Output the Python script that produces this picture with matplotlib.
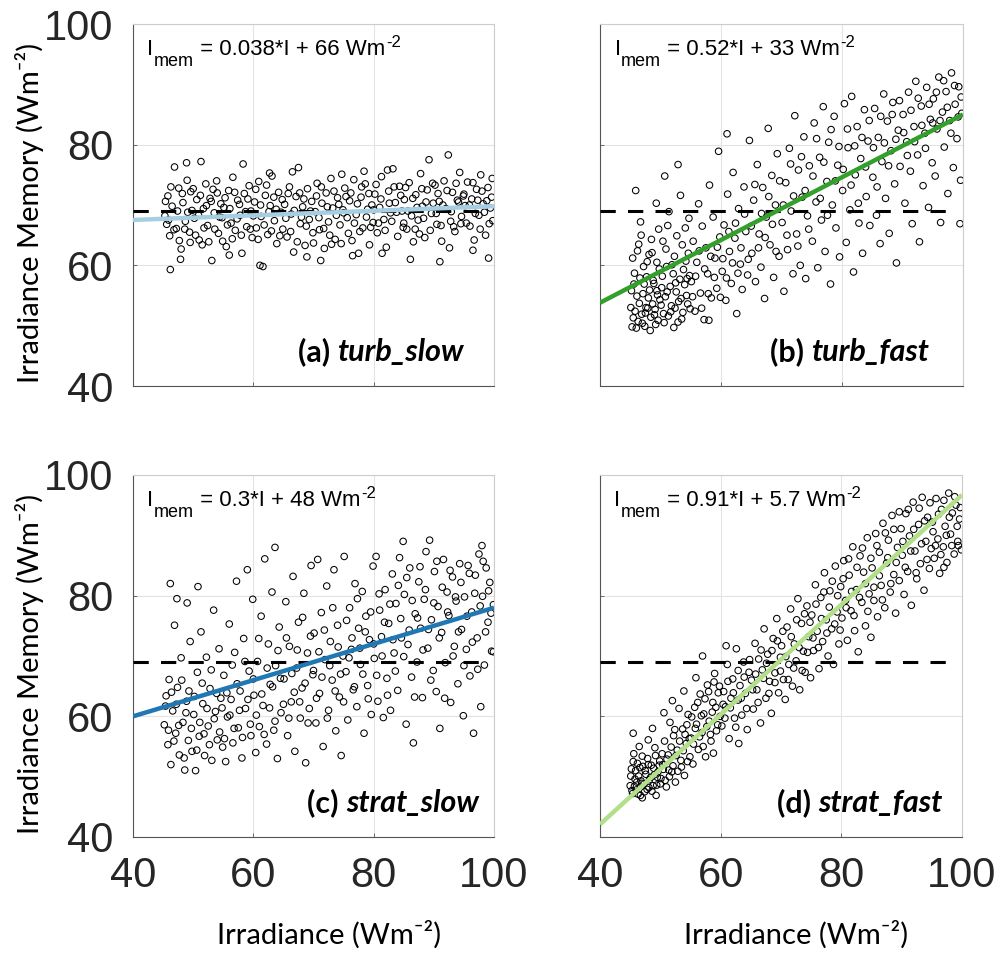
import numpy as np
import matplotlib
matplotlib.use("Agg")
import matplotlib.pyplot as plt

# Irradiance (x) vs irradiance memory (y) for each of the four runs
turb_slow_pts = [
    (45.3, 68.2), (45.8, 71.5), (46.1, 64.9), (46.5, 69.8), (46.9, 76.3), (47.2, 66.1), (47.6, 72.8), (48.0, 62.7),
    (48.3, 70.4), (48.7, 67.3), (49.0, 74.1), (49.4, 65.5), (49.8, 69.1), (46.2, 59.3), (47.9, 61.0), (48.9, 77.0),
    (45.6, 66.8), (49.6, 72.2),
    (50.2, 67.8), (50.6, 70.9), (51.0, 64.2), (51.3, 77.2), (51.7, 69.4), (52.1, 73.5), (52.4, 66.6), (52.8, 71.1),
    (53.1, 60.8), (53.5, 68.7), (53.9, 74.0), (54.2, 65.3), (54.6, 70.2), (51.5, 63.4), (53.3, 72.6), (54.8, 67.9),
    (55.1, 69.6), (55.5, 63.1), (55.9, 72.4), (56.3, 67.0), (56.6, 74.6), (57.0, 65.8), (57.4, 70.8), (57.8, 68.3),
    (58.1, 62.0), (58.5, 71.9), (58.9, 66.4), (59.3, 73.2), (59.6, 69.0), (56.0, 61.7), (58.3, 76.8), (59.8, 64.6),
    (60.2, 70.5), (60.5, 66.2), (60.9, 73.9), (61.3, 68.1), (61.6, 59.8), (62.0, 71.6), (62.4, 65.1), (62.8, 69.9),
    (63.1, 74.8), (63.5, 67.4), (63.9, 63.6), (64.2, 72.1), (64.6, 68.8), (61.1, 60.0), (62.7, 75.3), (64.9, 66.0),
    (65.2, 70.1), (65.6, 64.7), (66.0, 73.0), (66.3, 68.5), (66.7, 62.2), (67.1, 71.4), (67.5, 76.2), (67.8, 66.9),
    (68.2, 69.7), (68.6, 63.3), (69.0, 72.7), (69.3, 67.6), (69.7, 70.6), (66.5, 75.5), (68.9, 61.4), (69.9, 65.4),
    (70.3, 68.9), (70.6, 73.6), (71.0, 65.9), (71.4, 70.3), (71.8, 62.8), (72.1, 72.0), (72.5, 67.2), (72.9, 74.4),
    (73.2, 69.5), (73.6, 64.3), (74.0, 71.2), (74.4, 66.7), (74.7, 75.1), (71.2, 60.8), (73.0, 63.5), (74.9, 69.2),
    (75.2, 72.8), (75.6, 67.9), (76.0, 70.7), (76.4, 64.1), (76.7, 74.2), (77.1, 68.4), (77.5, 62.0), (77.9, 71.3),
    (78.2, 66.2), (78.6, 73.5), (79.0, 69.3), (79.3, 63.4), (79.7, 70.0), (76.5, 61.6), (78.4, 75.6), (79.9, 67.1),
    (80.2, 71.8), (80.6, 65.4), (81.0, 69.6), (81.3, 74.7), (81.7, 67.6), (82.1, 63.0), (82.5, 72.3), (82.8, 68.7),
    (83.2, 76.0), (83.6, 70.4), (84.0, 64.8), (84.3, 73.1), (84.7, 69.0), (81.4, 62.0), (82.3, 75.8), (84.9, 66.3),
    (85.1, 70.9), (85.5, 66.0), (85.9, 73.7), (86.3, 68.2), (86.6, 63.9), (87.0, 71.7), (87.4, 67.5), (87.8, 75.2),
    (88.1, 69.8), (88.5, 64.6), (88.9, 72.5), (89.2, 77.5), (89.6, 68.6), (86.1, 61.0), (87.6, 65.2), (89.9, 70.3),
    (90.2, 73.3), (90.5, 66.8), (90.9, 70.6), (91.3, 64.0), (91.7, 74.0), (92.0, 69.4), (92.4, 78.3), (92.8, 67.3),
    (93.1, 72.1), (93.5, 65.6), (93.9, 70.8), (94.3, 75.4), (94.6, 68.1), (91.0, 60.6), (92.6, 62.9), (94.9, 71.5),
    (95.2, 69.9), (95.6, 73.8), (96.0, 66.5), (96.3, 71.0), (96.7, 64.2), (97.1, 72.6), (97.5, 68.3), (97.8, 75.0),
    (98.2, 70.2), (98.6, 65.0), (99.0, 72.9), (99.4, 69.5), (99.7, 74.4), (96.5, 62.5), (99.1, 61.2), (99.8, 67.4),
    (45.4, 70.6), (45.9, 67.5), (46.3, 73.0), (46.8, 65.9), (47.4, 69.0), (47.7, 64.1), (48.2, 71.9), (48.6, 66.0),
    (49.1, 68.8), (49.5, 63.8), (50.0, 72.7), (50.4, 65.0), (50.9, 68.3), (51.2, 71.6), (51.8, 66.2), (52.2, 69.9),
    (52.6, 63.9), (53.0, 70.6), (53.6, 66.0), (54.0, 72.0), (54.4, 68.0), (54.9, 64.0), (55.3, 71.2), (55.7, 66.7),
    (56.1, 69.4), (56.5, 64.4), (56.9, 72.1), (57.3, 67.7), (57.7, 70.1), (58.0, 65.0), (58.7, 68.9), (59.1, 71.0),
    (59.5, 66.0), (60.0, 68.2), (60.4, 72.6), (60.8, 64.3), (61.2, 70.0), (61.8, 66.7), (62.2, 73.3), (62.6, 68.9),
    (63.0, 65.7), (63.4, 71.3), (63.8, 69.3), (64.4, 64.9), (64.8, 70.9), (65.4, 67.8), (65.8, 71.9), (66.2, 65.6),
    (66.8, 69.1), (67.3, 63.9), (67.7, 72.0), (68.0, 68.0), (68.4, 71.0), (68.8, 66.5), (69.5, 69.0), (70.0, 63.7),
    (70.5, 71.5), (70.9, 67.9), (71.3, 73.0), (71.7, 66.1), (72.3, 69.7), (72.7, 65.0), (73.4, 72.3), (73.8, 68.3),
    (74.2, 70.1), (74.6, 63.6), (75.0, 68.7), (75.4, 71.4), (75.8, 65.3), (76.2, 72.0), (76.8, 67.0), (77.3, 70.2),
    (77.7, 65.6), (78.0, 73.0), (78.8, 68.0), (79.2, 71.9), (79.5, 66.3), (80.0, 69.2), (80.4, 73.4), (80.8, 67.0),
    (81.2, 71.0), (81.9, 65.8), (82.6, 70.3), (83.0, 67.3), (83.4, 73.0), (83.8, 68.8), (84.5, 71.6), (85.0, 67.0),
    (85.3, 72.9), (85.7, 69.0), (86.5, 71.1), (86.9, 66.0), (87.2, 69.6), (88.0, 72.7), (88.3, 67.8), (88.7, 70.5),
    (89.4, 65.8), (89.8, 73.6), (90.4, 68.6), (90.7, 71.9), (91.2, 66.6), (91.5, 70.0), (92.2, 72.4), (92.9, 68.9),
    (93.3, 66.4), (93.7, 73.6), (94.1, 70.5), (94.5, 66.9), (95.0, 71.8), (95.4, 67.0), (95.9, 70.0), (96.5, 73.7),
    (96.9, 68.6), (97.3, 70.8), (97.7, 66.0), (98.0, 72.3), (98.4, 68.8), (98.8, 70.7), (99.2, 66.9), (99.6, 71.3),
]

turb_fast_pts = [
    (45.2, 55.8), (45.5, 51.3), (45.7, 58.7), (46.0, 49.6), (46.2, 62.4), (46.5, 53.7), (46.7, 67.2), (47.0, 50.4),
    (47.3, 56.9), (47.5, 52.1), (47.8, 60.6), (48.0, 54.6), (48.3, 49.2), (48.5, 64.3), (48.8, 57.5), (49.0, 51.8),
    (49.3, 70.3), (49.5, 55.1), (49.8, 59.4), (45.9, 72.4), (46.8, 65.0), (47.6, 53.0), (48.1, 61.8), (49.2, 50.2),
    (49.7, 66.0),
    (50.1, 53.4), (50.3, 58.2), (50.6, 50.5), (50.9, 62.7), (51.1, 55.6), (51.4, 68.9), (51.7, 52.3), (51.9, 60.1),
    (52.2, 49.7), (52.5, 57.1), (52.7, 64.9), (53.0, 54.0), (53.3, 71.6), (53.5, 51.1), (53.8, 59.3), (54.1, 66.2),
    (54.3, 55.0), (54.6, 62.0), (54.9, 52.8), (50.7, 74.8), (52.9, 76.7), (54.4, 57.8),
    (55.1, 57.3), (55.4, 64.0), (55.7, 52.4), (56.0, 60.5), (56.3, 70.2), (56.6, 55.4), (56.9, 66.5), (57.2, 51.0),
    (57.5, 62.9), (57.8, 58.6), (58.1, 73.3), (58.4, 54.6), (58.7, 68.0), (59.0, 61.2), (59.3, 56.2), (59.6, 78.9),
    (59.8, 64.7), (58.0, 50.9),
    (60.2, 59.0), (60.5, 66.7), (60.8, 54.2), (61.1, 71.8), (61.4, 62.3), (61.7, 57.0), (62.0, 75.4), (62.3, 64.5),
    (62.6, 52.0), (62.9, 69.4), (63.2, 60.2), (63.5, 56.0), (63.8, 73.0), (64.1, 65.6), (64.4, 58.4), (64.7, 80.7),
    (61.0, 81.8),
    (65.1, 62.0), (65.4, 70.8), (65.7, 57.3), (66.0, 76.7), (66.3, 65.2), (66.6, 59.7), (66.9, 72.9), (67.2, 54.5),
    (67.5, 68.0), (67.8, 82.7), (68.1, 63.4), (68.4, 74.9), (68.7, 58.0), (69.0, 70.0), (69.3, 78.5), (69.6, 61.5),
    (70.1, 67.1), (70.4, 55.7), (70.7, 73.7), (71.0, 62.6), (71.3, 79.4), (71.6, 69.0), (71.9, 58.6), (72.2, 84.8),
    (72.5, 65.2), (72.8, 75.8), (73.1, 60.0), (73.4, 71.3), (73.7, 81.3), (74.0, 57.8), (74.3, 68.2), (74.6, 76.5),
    (75.1, 64.0), (75.4, 83.6), (75.7, 70.5), (76.0, 59.6), (76.3, 77.9), (76.6, 67.5), (76.9, 86.3), (77.2, 62.3),
    (77.5, 73.9), (77.8, 80.4), (78.1, 56.9), (78.4, 70.0), (78.7, 84.7), (79.0, 66.2), (79.3, 76.6), (79.6, 61.4),
    (80.1, 72.4), (80.4, 86.8), (80.7, 63.8), (81.0, 79.5), (81.3, 69.2), (81.6, 88.0), (81.9, 58.9), (82.2, 75.0),
    (82.5, 83.0), (82.8, 67.0), (83.1, 77.7), (83.4, 62.0), (83.7, 85.8), (84.0, 71.4), (84.3, 80.6), (84.6, 66.6),
    (85.1, 74.6), (85.4, 86.0), (85.7, 68.3), (86.0, 81.2), (86.3, 63.6), (86.6, 77.2), (86.9, 88.4), (87.2, 71.1),
    (87.5, 83.9), (87.8, 65.3), (88.1, 79.0), (88.4, 87.0), (88.7, 73.5), (89.0, 60.4), (89.3, 82.4), (89.6, 76.4),
    (90.1, 85.0), (90.4, 70.3), (90.7, 80.5), (91.0, 88.7), (91.3, 75.6), (91.6, 66.9), (91.9, 83.0), (92.2, 90.5),
    (92.5, 78.3), (92.8, 63.9), (93.1, 86.4), (93.4, 73.2), (93.7, 81.9), (94.0, 89.5), (94.3, 69.6), (94.6, 84.2),
    (94.9, 77.0),
    (95.1, 87.6), (95.4, 74.8), (95.7, 82.6), (96.0, 91.2), (96.3, 67.1), (96.6, 85.4), (96.9, 79.6), (97.2, 88.8),
    (97.5, 71.9), (97.8, 84.0), (98.1, 91.9), (98.4, 76.2), (98.7, 86.7), (99.0, 81.0), (99.3, 89.6), (99.6, 74.1),
    (99.8, 85.2), (99.5, 66.9),
    (45.1, 53.0), (45.3, 49.8), (45.6, 56.9), (45.8, 52.4), (46.1, 54.9), (46.3, 50.7), (46.6, 57.9), (46.9, 51.9),
    (47.1, 55.3), (47.4, 49.9), (47.7, 58.1), (47.9, 52.9), (48.2, 55.9), (48.4, 51.4), (48.7, 53.6), (48.9, 57.0),
    (49.1, 52.7), (49.4, 55.8), (49.6, 50.9), (49.9, 54.3), (50.2, 56.3), (50.5, 52.0), (50.8, 54.8), (51.0, 59.8),
    (51.3, 51.6), (51.6, 56.5), (51.8, 53.3), (52.1, 58.6), (52.4, 52.9), (52.6, 55.6), (52.9, 50.6), (53.2, 57.7),
    (53.4, 54.5), (53.7, 52.2), (54.0, 56.8), (54.2, 60.7), (54.5, 53.6), (54.8, 58.3), (45.4, 61.2), (46.4, 63.5),
    (47.2, 59.8), (48.6, 62.1), (49.4, 60.5), (50.4, 64.0), (51.2, 66.6), (52.3, 61.5), (53.6, 63.4), (54.7, 67.8),
    (55.3, 54.8), (55.8, 58.2), (56.4, 62.4), (56.8, 52.9), (57.3, 59.4), (57.9, 55.3), (58.3, 61.5), (58.9, 58.0),
    (59.4, 63.0), (59.9, 54.7), (60.3, 61.1), (60.9, 57.9), (61.3, 65.6), (61.9, 60.4), (62.4, 67.0), (62.8, 58.7),
    (63.3, 62.9), (63.9, 68.5), (64.5, 61.0), (65.0, 66.5), (65.6, 73.4), (66.2, 62.9), (66.7, 68.6), (67.3, 64.6),
    (67.9, 71.4), (68.5, 66.8), (69.1, 62.3), (69.7, 74.0), (70.3, 70.0), (70.9, 65.0), (71.5, 76.8), (72.0, 71.5),
    (72.7, 63.2), (73.3, 78.0), (73.9, 72.4), (74.5, 66.0), (75.2, 74.8), (75.8, 81.0), (76.4, 71.1), (77.0, 77.1),
    (77.6, 68.3), (78.2, 82.5), (78.9, 74.0), (79.5, 79.7), (80.2, 75.9), (80.9, 82.6), (81.5, 73.3), (82.1, 79.8),
    (82.7, 70.3), (83.3, 81.2), (83.9, 76.3), (84.5, 84.0), (85.2, 79.5), (85.8, 73.0), (86.4, 84.7), (87.0, 80.3),
    (87.7, 76.5), (88.3, 85.0), (88.9, 80.9), (89.5, 87.3), (90.2, 82.0), (90.8, 78.2), (91.4, 85.7), (92.0, 80.5),
    (92.6, 87.7), (93.2, 83.2), (93.8, 79.4), (94.4, 86.7), (95.0, 83.6), (95.6, 88.7), (96.2, 84.0), (96.8, 90.6),
    (97.4, 86.2), (98.0, 81.9), (98.6, 89.8), (99.2, 84.6), (99.7, 87.9),
]

strat_slow_pts = [
    (45.2, 58.6), (45.5, 63.4), (45.8, 55.3), (46.0, 66.1), (46.3, 52.0), (46.6, 60.9), (46.9, 75.1), (47.1, 57.2),
    (47.4, 64.8), (47.7, 53.6), (48.0, 69.7), (48.3, 59.0), (48.6, 51.1), (48.9, 62.5), (49.2, 56.0), (49.5, 72.4),
    (49.8, 54.2), (46.2, 82.0), (47.3, 79.5), (49.0, 78.8),
    (50.1, 60.3), (50.4, 51.0), (50.7, 67.3), (51.0, 56.7), (51.3, 74.0), (51.6, 62.1), (51.9, 53.5), (52.2, 69.8),
    (52.5, 58.4), (52.8, 64.6), (53.1, 52.7), (53.4, 77.6), (53.7, 60.8), (54.0, 56.1), (54.3, 71.2), (54.6, 63.0),
    (54.9, 54.9), (50.8, 81.5),
    (55.1, 66.8), (55.4, 52.5), (55.7, 59.9), (56.0, 75.3), (56.3, 62.8), (56.6, 55.6), (56.9, 70.6), (57.2, 82.4),
    (57.5, 58.1), (57.8, 64.2), (58.1, 53.1), (58.4, 72.9), (58.7, 61.3), (59.0, 84.3), (59.3, 67.5), (59.6, 56.8),
    (59.9, 79.4),
    (60.1, 63.5), (60.4, 54.0), (60.7, 69.1), (61.0, 58.3), (61.3, 76.6), (61.6, 61.8), (61.9, 86.1), (62.2, 55.4),
    (62.5, 72.0), (62.8, 65.3), (63.1, 80.6), (63.4, 57.7), (63.7, 68.4), (64.0, 53.0), (64.3, 74.8), (64.6, 60.6),
    (63.6, 88.0),
    (65.1, 66.2), (65.4, 79.0), (65.7, 56.8), (66.0, 71.6), (66.3, 62.4), (66.6, 83.2), (66.9, 54.2), (67.2, 68.0),
    (67.5, 75.6), (67.8, 59.7), (68.1, 64.7), (68.4, 80.4), (68.7, 52.3), (69.0, 70.5), (69.3, 61.3), (69.6, 85.0),
    (69.9, 66.9),
    (70.1, 73.8), (70.4, 58.9), (70.7, 86.0), (71.0, 63.8), (71.3, 77.2), (71.6, 55.0), (71.9, 69.4), (72.2, 81.6),
    (72.5, 61.0), (72.8, 72.4), (73.1, 66.0), (73.4, 84.3), (73.7, 57.6), (74.0, 75.1), (74.3, 63.2), (74.6, 53.5),
    (74.9, 70.0),
    (75.1, 86.5), (75.4, 67.4), (75.7, 59.4), (76.0, 78.0), (76.3, 71.1), (76.6, 64.4), (76.9, 82.0), (77.2, 61.6),
    (77.5, 74.6), (77.8, 68.6), (78.1, 80.7), (78.4, 57.2), (78.7, 76.6), (79.0, 65.1), (79.3, 72.7), (79.6, 60.3),
    (79.9, 84.9),
    (80.1, 69.6), (80.4, 86.5), (80.7, 62.5), (81.0, 77.6), (81.3, 73.2), (81.6, 59.8), (81.9, 81.0), (82.2, 66.3),
    (82.5, 75.4), (82.8, 61.0), (83.1, 83.6), (83.4, 70.5), (83.7, 78.7), (84.0, 64.3), (84.3, 86.3), (84.6, 73.0),
    (84.9, 89.0),
    (85.1, 80.2), (85.4, 58.7), (85.7, 71.9), (86.0, 84.6), (86.3, 66.5), (86.6, 55.6), (86.9, 77.0), (87.2, 69.0),
    (87.5, 82.3), (87.8, 74.6), (88.1, 63.1), (88.4, 79.4), (88.7, 87.3), (89.0, 71.3), (89.3, 89.2), (89.6, 76.0),
    (89.9, 67.6),
    (90.1, 84.0), (90.4, 64.1), (90.7, 78.2), (91.0, 58.0), (91.3, 73.9), (91.6, 86.0), (91.9, 68.9), (92.2, 80.6),
    (92.5, 76.7), (92.8, 62.3), (93.1, 83.1), (93.4, 71.6), (93.7, 79.1), (94.0, 65.4), (94.3, 85.3), (94.6, 74.4),
    (94.9, 60.1),
    (95.1, 79.8), (95.4, 71.1), (95.7, 85.0), (96.0, 66.7), (96.3, 77.3), (96.6, 57.2), (96.9, 83.4), (97.2, 73.0),
    (97.5, 86.9), (97.8, 61.6), (98.1, 79.9), (98.4, 68.5), (98.7, 84.6), (99.0, 75.6), (99.3, 82.2), (99.6, 70.8),
    (99.9, 78.5), (98.0, 88.3),
    (45.4, 61.7), (45.9, 57.7), (46.4, 64.0), (46.8, 55.9), (47.2, 62.0), (47.6, 58.5), (48.1, 66.0), (48.5, 53.1),
    (48.8, 60.6), (49.3, 64.2), (49.7, 58.0), (50.2, 63.3), (50.6, 54.4), (51.1, 59.0), (51.5, 65.5), (51.8, 57.1),
    (52.3, 61.3), (52.7, 55.3), (53.0, 67.7), (53.5, 59.6), (53.9, 63.8), (54.4, 57.4), (54.8, 61.4), (55.2, 56.3),
    (55.6, 63.9), (56.1, 60.2), (56.5, 68.5), (56.8, 58.0), (57.3, 65.4), (57.7, 61.0), (58.2, 56.5), (58.6, 69.1),
    (59.1, 62.8), (59.5, 58.7), (60.0, 66.2), (60.5, 60.2), (60.9, 72.9), (61.4, 63.7), (61.8, 57.0), (62.3, 68.0),
    (62.7, 61.4), (63.2, 64.9), (63.6, 59.2), (64.1, 70.9), (64.5, 66.3), (65.0, 62.0), (65.5, 73.0), (65.9, 59.7),
    (66.4, 67.1), (66.8, 64.0), (67.3, 71.0), (67.7, 62.4), (68.2, 76.4), (68.6, 65.5), (69.1, 58.9), (69.5, 73.3),
    (70.0, 67.6), (70.5, 63.0), (70.9, 70.7), (71.4, 66.5), (71.8, 74.3), (72.3, 59.7), (72.7, 68.4), (73.2, 78.0),
    (73.6, 64.2), (74.1, 71.5), (74.5, 67.0), (75.0, 62.4), (75.5, 75.9), (75.9, 69.7), (76.4, 73.0), (76.8, 64.9),
    (77.3, 79.5), (77.7, 71.3), (78.2, 67.0), (78.6, 74.0), (79.1, 62.9), (79.5, 77.3), (80.0, 72.0), (80.5, 66.8),
    (80.9, 80.3), (81.4, 70.0), (81.8, 75.6), (82.3, 63.5), (82.7, 78.6), (83.2, 72.7), (83.6, 67.5), (84.1, 81.7),
    (84.5, 76.2), (85.0, 69.9), (85.5, 83.0), (85.9, 74.3), (86.4, 79.2), (86.8, 63.2), (87.3, 76.3), (87.7, 84.8),
    (88.2, 71.0), (88.6, 81.0), (89.1, 74.4), (89.5, 66.0), (90.0, 78.8), (90.5, 85.7), (90.9, 73.0), (91.4, 81.4),
    (91.8, 63.0), (92.3, 77.3), (92.7, 84.2), (93.2, 70.0), (93.6, 79.8), (94.1, 74.0), (94.5, 82.2), (95.0, 68.4),
    (95.5, 76.6), (95.9, 83.7), (96.4, 72.3), (96.8, 80.4), (97.3, 67.8), (97.7, 78.3), (98.2, 85.7), (98.6, 74.0),
    (99.1, 80.8), (99.5, 77.1), (99.9, 70.7),
]

strat_fast_pts = [
    (45.0, 48.5), (45.2, 51.3), (45.4, 47.2), (45.6, 53.8), (45.8, 49.6), (46.0, 47.8), (46.2, 52.2), (46.4, 50.1),
    (46.7, 46.9), (46.9, 48.9), (47.1, 51.7), (47.4, 47.5), (47.6, 50.4), (47.9, 53.0), (48.1, 48.2), (48.4, 49.9),
    (48.6, 47.6), (48.9, 51.4), (49.1, 54.8), (49.4, 48.6), (49.6, 50.8), (49.9, 52.6), (45.5, 57.2), (46.5, 55.0),
    (48.0, 56.1), (47.0, 46.5), (49.3, 46.9), (48.7, 58.0),
    (50.1, 49.7), (50.4, 52.0), (50.7, 55.9), (51.0, 48.3), (51.3, 53.6), (51.6, 59.0), (51.9, 50.8), (52.2, 56.8),
    (52.5, 49.1), (52.8, 54.4), (53.1, 61.3), (53.4, 52.7), (53.7, 57.9), (54.0, 50.2), (54.3, 55.5), (54.6, 60.3),
    (54.9, 53.3), (50.6, 60.6), (52.0, 62.6), (53.9, 64.2), (51.4, 51.1), (54.4, 58.6),
    (55.1, 56.4), (55.4, 52.1), (55.7, 61.5), (56.0, 58.7), (56.3, 54.5), (56.6, 63.7), (56.9, 57.3), (57.2, 60.4),
    (57.5, 53.3), (57.8, 65.2), (58.1, 59.2), (58.4, 55.9), (58.7, 62.3), (59.0, 67.1), (59.3, 57.6), (59.6, 63.9),
    (59.9, 60.0), (55.9, 66.4), (58.8, 53.9), (57.0, 70.0),
    (60.2, 58.4), (60.5, 64.1), (60.8, 61.6), (61.1, 68.6), (61.4, 56.3), (61.7, 63.0), (62.0, 66.2), (62.3, 59.7),
    (62.6, 71.2), (62.9, 62.7), (63.2, 65.1), (63.5, 60.2), (63.8, 69.0), (64.1, 63.8), (64.4, 57.8), (64.7, 67.3),
    (60.9, 71.7), (63.0, 55.5),
    (65.1, 66.0), (65.4, 61.2), (65.7, 72.1), (66.0, 64.4), (66.3, 69.5), (66.6, 58.9), (66.9, 67.7), (67.2, 74.5),
    (67.5, 63.0), (67.8, 70.3), (68.1, 65.8), (68.4, 60.5), (68.7, 72.9), (69.0, 67.2), (69.3, 76.2), (69.6, 63.9),
    (69.9, 69.8),
    (70.1, 71.7), (70.4, 66.1), (70.7, 62.8), (71.0, 74.8), (71.3, 68.6), (71.6, 77.8), (71.9, 65.0), (72.2, 72.0),
    (72.5, 69.2), (72.8, 79.5), (73.1, 64.4), (73.4, 75.4), (73.7, 70.8), (74.0, 67.3), (74.3, 78.3), (74.6, 73.2),
    (74.9, 66.4),
    (75.1, 76.8), (75.4, 70.9), (75.7, 81.8), (76.0, 74.1), (76.3, 67.9), (76.6, 79.7), (76.9, 72.4), (77.2, 83.8),
    (77.5, 76.0), (77.8, 70.0), (78.1, 80.8), (78.4, 74.5), (78.7, 68.6), (79.0, 84.9), (79.3, 77.3), (79.6, 72.0),
    (79.9, 81.5),
    (80.1, 76.3), (80.4, 85.8), (80.7, 79.2), (81.0, 72.6), (81.3, 83.4), (81.6, 77.5), (81.9, 88.1), (82.2, 74.2),
    (82.5, 81.0), (82.8, 70.7), (83.1, 86.6), (83.4, 78.9), (83.7, 83.9), (84.0, 75.0), (84.3, 89.6), (84.6, 80.3),
    (84.9, 73.1),
    (85.1, 84.6), (85.4, 79.2), (85.7, 90.3), (86.0, 76.5), (86.3, 87.2), (86.6, 81.7), (86.9, 92.0), (87.2, 78.0),
    (87.5, 85.4), (87.8, 89.2), (88.1, 80.6), (88.4, 93.3), (88.7, 83.5), (89.0, 77.1), (89.3, 88.0), (89.6, 82.5),
    (89.9, 91.1),
    (90.1, 86.7), (90.4, 80.2), (90.7, 93.6), (91.0, 84.0), (91.3, 89.9), (91.6, 78.4), (91.9, 95.5), (92.2, 87.4),
    (92.5, 82.8), (92.8, 91.8), (93.1, 85.3), (93.4, 96.3), (93.7, 80.9), (94.0, 89.0), (94.3, 93.0), (94.6, 84.5),
    (94.9, 87.8),
    (95.1, 92.2), (95.4, 86.2), (95.7, 96.1), (96.0, 89.4), (96.3, 83.7), (96.6, 94.3), (96.9, 88.1), (97.2, 91.5),
    (97.5, 85.5), (97.8, 97.0), (98.1, 90.2), (98.4, 93.7), (98.7, 86.9), (99.0, 95.0), (99.3, 89.0), (99.6, 92.7),
    (99.9, 87.6), (97.0, 84.7),
    (45.1, 50.1), (45.3, 47.7), (45.5, 52.5), (45.7, 48.4), (45.9, 51.0), (46.1, 49.1), (46.3, 47.1), (46.6, 51.5),
    (46.8, 49.3), (47.0, 53.4), (47.3, 48.8), (47.5, 51.0), (47.8, 47.9), (48.0, 52.0), (48.2, 49.5), (48.5, 51.9),
    (48.8, 48.5), (49.0, 50.3), (49.2, 53.5), (49.5, 49.9), (49.8, 51.9), (50.0, 48.8), (50.3, 53.8), (50.5, 51.2),
    (50.8, 49.4), (51.1, 52.9), (51.5, 50.0), (51.8, 54.9), (52.1, 51.8), (52.4, 57.8), (52.6, 53.5), (52.9, 50.9),
    (53.2, 55.9), (53.5, 51.6), (53.8, 54.3), (54.1, 57.0), (54.5, 52.5), (54.8, 56.3), (55.2, 59.9), (55.5, 55.4),
    (55.8, 58.0), (56.2, 62.3), (56.5, 56.6), (56.8, 60.1), (57.1, 55.0), (57.4, 62.9), (57.7, 58.3), (58.0, 64.1),
    (58.3, 57.0), (58.6, 60.7), (58.9, 65.7), (59.2, 61.5), (59.5, 58.6), (59.8, 65.0), (60.4, 62.0), (60.7, 59.7),
    (61.2, 65.8), (61.6, 61.4), (62.1, 63.9), (62.5, 58.2), (62.9, 67.6), (63.4, 63.0), (63.9, 66.5), (64.3, 61.3),
    (64.8, 69.4), (65.3, 64.4), (65.8, 67.0), (66.2, 62.3), (66.7, 71.0), (67.1, 66.3), (67.6, 68.8), (68.0, 63.8),
    (68.5, 70.9), (69.0, 65.6), (69.4, 72.5), (69.9, 67.5), (70.3, 74.1), (70.8, 69.9), (71.2, 66.1), (71.7, 73.2),
    (72.1, 68.0), (72.6, 76.0), (73.0, 71.4), (73.5, 67.6), (73.9, 77.0), (74.4, 70.6), (74.8, 75.6), (75.3, 73.0),
    (75.8, 78.6), (76.2, 71.4), (76.7, 76.2), (77.1, 80.6), (77.6, 73.8), (78.0, 78.1), (78.5, 82.4), (78.9, 75.3),
    (79.4, 80.0), (79.8, 74.3), (80.3, 82.8), (80.8, 78.0), (81.2, 86.1), (81.7, 80.7), (82.1, 76.7), (82.6, 84.7),
    (83.0, 79.7), (83.5, 87.9), (84.0, 82.0), (84.4, 77.4), (84.9, 86.2), (85.4, 81.4), (85.9, 88.3), (86.3, 83.3),
    (86.8, 79.3), (87.3, 90.4), (87.7, 86.3), (88.2, 82.0), (88.7, 91.0), (89.1, 85.5), (89.6, 93.9), (90.2, 89.0),
    (90.6, 84.7), (91.1, 94.3), (91.5, 87.4), (92.0, 91.0), (92.4, 83.8), (92.9, 94.5), (93.3, 88.6), (93.8, 92.4),
    (94.2, 86.0), (94.7, 95.4), (95.2, 90.6), (95.6, 88.3), (96.1, 93.5), (96.5, 86.8), (97.0, 95.8), (97.4, 90.0),
    (97.9, 93.0), (98.3, 88.3), (98.8, 96.4), (99.2, 91.5), (99.7, 94.6), (99.4, 88.3),
]

# Linear fits (slope, intercept) as printed in each panel
slopes = [0.038, 0.52, 0.3, 0.91]
intercepts = [66, 33, 48, 5.7]
slope_txt = ["0.038", "0.52", "0.3", "0.91"]
icpt_txt = ["66", "33", "48", "5.7"]
run_ids = ["(a) ", "(b) ", "(c) ", "(d) "]
run_names = ["turb_slow", "turb_fast", "strat_slow", "strat_fast"]
fit_colors = ["#a6cee3", "#33a02c", "#1f78b4", "#b2df8a"]
mean_memory = 69.0

all_pts = [turb_slow_pts, turb_fast_pts, strat_slow_pts, strat_fast_pts]

W, H = 1004, 961
fig = plt.figure(figsize=(W / 100, H / 100), dpi=100)

# axes boxes in pixels: left, top, right, bottom
boxes = [(133, 24, 494, 386), (600, 24, 963, 386),
         (133, 475, 494, 837), (600, 475, 962, 837)]

tick_font = dict(family="Liberation Sans", size=30, color="#262626")
eq_family = ["Liberation Sans", "DejaVu Sans"]
lbl_family = ["Lato", "DejaVu Sans"]


def equation(ax, slope, icpt):
    # I_mem = a*I + b Wm^-2, built piece by piece so sub/superscripts sit like the original
    t_i = ax.text(0.04, 0.915, "I", transform=ax.transAxes, va="baseline",
                  ha="left", family=eq_family, size=16)
    t_sub = ax.annotate("mem", xy=(1, 0), xycoords=t_i, xytext=(0.3, -4.5),
                        textcoords="offset points", va="baseline", ha="left",
                        family=eq_family, size=13)
    t_rest = ax.annotate(" = " + slope + "*I + " + icpt + " Wm", xy=(1, 0),
                         xycoords=(t_sub, t_i), va="bottom", ha="left",
                         family=eq_family, size=16)
    ax.annotate("-2", xy=(1, 1), xycoords=t_rest, xytext=(0.5, 3),
                textcoords="offset points", va="top", ha="left",
                family=eq_family, size=12)


for i, (l, t, r, b) in enumerate(boxes):
    ax = fig.add_axes([l / W, 1 - b / H, (r - l) / W, (b - t) / H])
    pts = np.array(all_pts[i])
    ax.scatter(pts[:, 0], pts[:, 1], s=22, facecolors="none",
               edgecolors="black", linewidths=0.75, zorder=2)

    ax.plot([40, 99], [mean_memory, mean_memory], color="black", lw=2.2,
            linestyle=(0, (5, 4)), zorder=3)

    xf = np.array([40, 100])
    ax.plot(xf, slopes[i] * xf + intercepts[i], color=fit_colors[i], lw=3.2,
            solid_capstyle="butt", zorder=4)

    ax.set_xlim(40, 100)
    ax.set_ylim(40, 100)
    ax.set_xticks([40, 60, 80, 100])
    ax.set_yticks([40, 60, 80, 100])
    ax.grid(True, color="#e3e3e3", lw=0.8, zorder=0)
    ax.set_axisbelow(True)
    ax.tick_params(direction="in", length=3, width=0.6, color="#555555",
                   top=False, right=False, pad=14)
    for side in ["top", "right"]:
        ax.spines[side].set_color("#cccccc")
        ax.spines[side].set_linewidth(0.8)
    for side in ["left", "bottom"]:
        ax.spines[side].set_color("#555555")
        ax.spines[side].set_linewidth(0.8)

    if i % 2 == 0:
        ax.set_yticklabels(["40", "60", "80", "100"], **tick_font)
    else:
        ax.set_yticklabels([])
    if i >= 2:
        ax.set_xticklabels(["40", "60", "80", "100"], **tick_font)
    else:
        ax.set_xticklabels([])

    equation(ax, slope_txt[i], icpt_txt[i])

    lab_x = [0.457, 0.468, 0.482, 0.489][i]
    t1 = ax.text(lab_x, 0.055, run_ids[i], transform=ax.transAxes,
                 family=lbl_family, weight="bold", size=22, va="bottom", ha="left")
    ax.annotate(run_names[i], xy=(1, 0), xycoords=t1, va="bottom", ha="left",
                family=lbl_family, weight="bold", style="italic", size=22)

# shared axis labels
ylab = "Irradiance Memory (Wm\u207b\u00b2)"
xlab = "Irradiance (Wm\u207b\u00b2)"
fig.text(30 / W, 1 - 213 / H, ylab, rotation=90, ha="center", va="center",
         family=lbl_family, size=21)
fig.text(30 / W, 1 - 664 / H, ylab, rotation=90, ha="center", va="center",
         family=lbl_family, size=21)
fig.text(329 / W, 1 - 935 / H, xlab, ha="center", va="center",
         family=lbl_family, size=21)
fig.text(796 / W, 1 - 935 / H, xlab, ha="center", va="center",
         family=lbl_family, size=21)

fig.savefig("out.png", dpi=100)
